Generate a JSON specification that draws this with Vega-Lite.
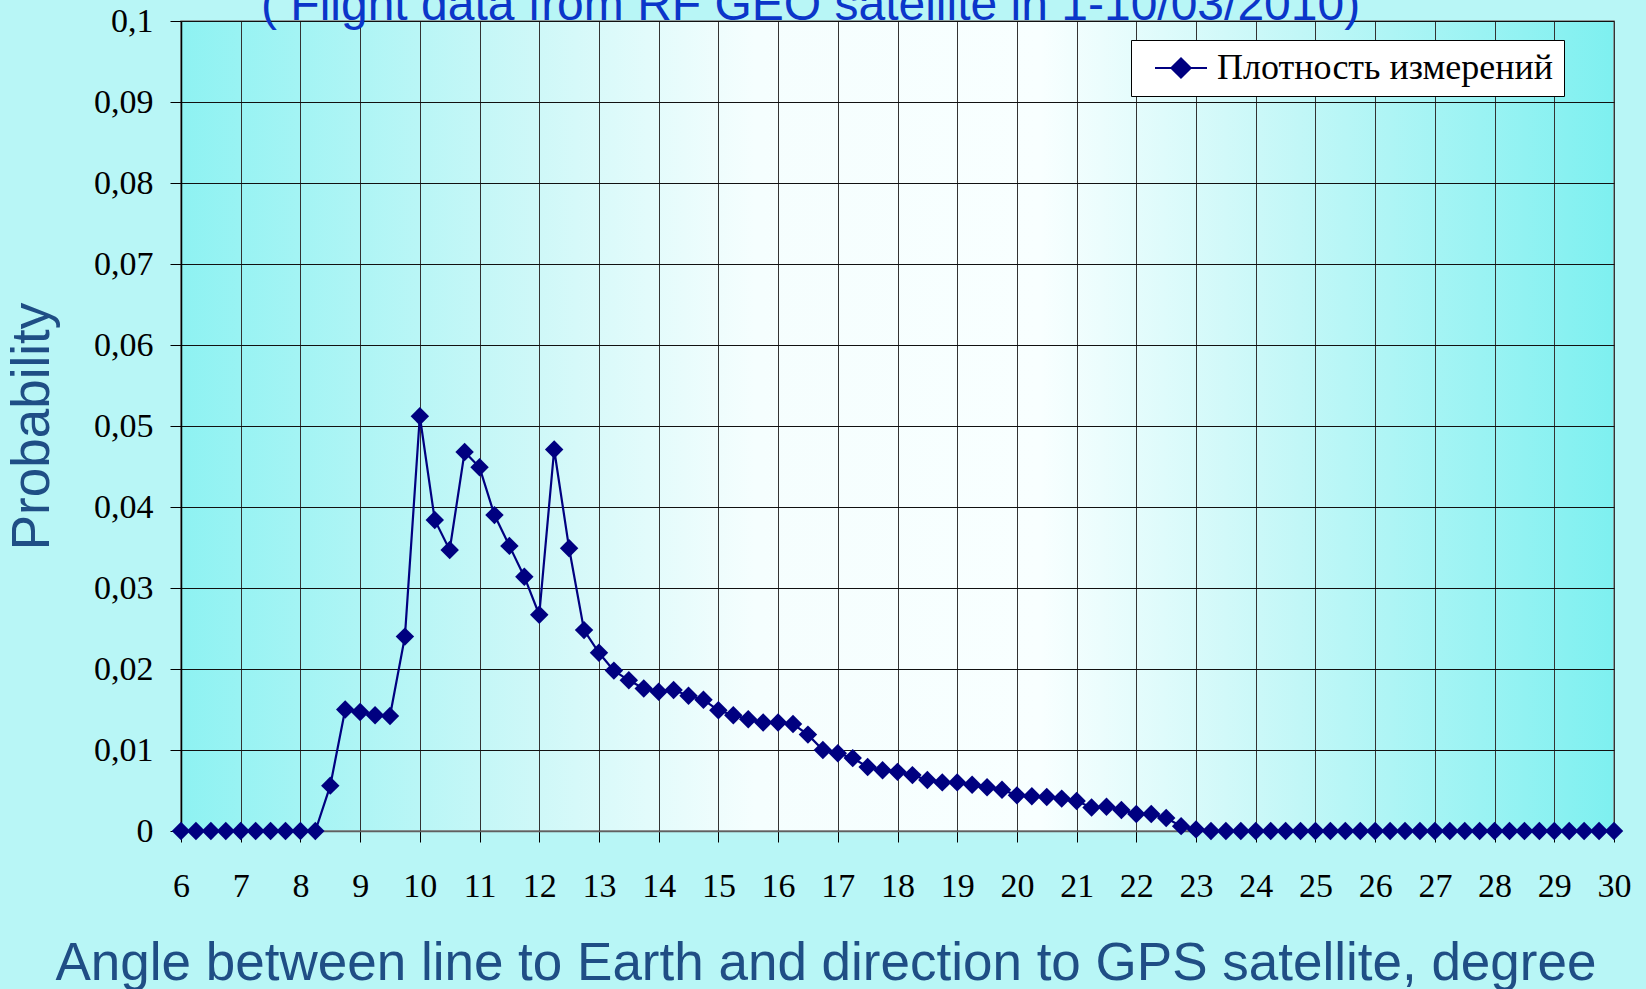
{
  "$schema": "https://vega.github.io/schema/vega-lite/v6.json",
  "autosize": "none",
  "width": 1433,
  "height": 810,
  "padding": {"left": 181, "top": 21, "right": 32, "bottom": 158},
  "background": "#b8f6f6",
  "title": {
    "text": "( Flight data from RF GEO satellite in 1-10/03/2010)",
    "font": "Liberation Sans",
    "fontSize": 48,
    "fontWeight": "normal",
    "color": "#0b36c9",
    "anchor": "start",
    "frame": "group",
    "dx": 80,
    "dy": 64,
    "baseline": "alphabetic",
    "offset": 0
  },
  "view": {
    "stroke": "#808080",
    "strokeWidth": 1.5,
    "fill": {
      "gradient": "linear",
      "x1": 0, "y1": 0, "x2": 1, "y2": 0,
      "stops": [
        {"offset": 0, "color": "#8ef2f2"},
        {"offset": 0.25, "color": "#cff8f8"},
        {"offset": 0.4, "color": "#f5fefe"},
        {"offset": 0.6, "color": "#f8ffff"},
        {"offset": 0.75, "color": "#cbf8f8"},
        {"offset": 1, "color": "#7ef0f0"}
      ]
    }
  },
  "data": {
    "values": [
      {"angle": 6.0, "p": 0}, {"angle": 6.25, "p": 0}, {"angle": 6.5, "p": 0}, {"angle": 6.75, "p": 0},
      {"angle": 7.0, "p": 0}, {"angle": 7.25, "p": 0}, {"angle": 7.5, "p": 0}, {"angle": 7.75, "p": 0},
      {"angle": 8.0, "p": 0}, {"angle": 8.25, "p": 0}, {"angle": 8.5, "p": 0.0056}, {"angle": 8.75, "p": 0.0150},
      {"angle": 9.0, "p": 0.0147}, {"angle": 9.25, "p": 0.0143}, {"angle": 9.5, "p": 0.0142}, {"angle": 9.75, "p": 0.0240},
      {"angle": 10.0, "p": 0.0512}, {"angle": 10.25, "p": 0.0384}, {"angle": 10.5, "p": 0.0347}, {"angle": 10.75, "p": 0.0468},
      {"angle": 11.0, "p": 0.0449}, {"angle": 11.25, "p": 0.0390}, {"angle": 11.5, "p": 0.0352}, {"angle": 11.75, "p": 0.0314},
      {"angle": 12.0, "p": 0.0267}, {"angle": 12.25, "p": 0.0471}, {"angle": 12.5, "p": 0.0349}, {"angle": 12.75, "p": 0.0248},
      {"angle": 13.0, "p": 0.0220}, {"angle": 13.25, "p": 0.0198}, {"angle": 13.5, "p": 0.0186}, {"angle": 13.75, "p": 0.0176},
      {"angle": 14.0, "p": 0.0172}, {"angle": 14.25, "p": 0.0174}, {"angle": 14.5, "p": 0.0167}, {"angle": 14.75, "p": 0.0162},
      {"angle": 15.0, "p": 0.0149}, {"angle": 15.25, "p": 0.0143}, {"angle": 15.5, "p": 0.0138}, {"angle": 15.75, "p": 0.0134},
      {"angle": 16.0, "p": 0.0134}, {"angle": 16.25, "p": 0.0132}, {"angle": 16.5, "p": 0.0119}, {"angle": 16.75, "p": 0.0100},
      {"angle": 17.0, "p": 0.0096}, {"angle": 17.25, "p": 0.0090}, {"angle": 17.5, "p": 0.0079}, {"angle": 17.75, "p": 0.0075},
      {"angle": 18.0, "p": 0.0073}, {"angle": 18.25, "p": 0.0069}, {"angle": 18.5, "p": 0.0063}, {"angle": 18.75, "p": 0.0060},
      {"angle": 19.0, "p": 0.0060}, {"angle": 19.25, "p": 0.0057}, {"angle": 19.5, "p": 0.0054}, {"angle": 19.75, "p": 0.0051},
      {"angle": 20.0, "p": 0.0044}, {"angle": 20.25, "p": 0.0043}, {"angle": 20.5, "p": 0.0042}, {"angle": 20.75, "p": 0.0040},
      {"angle": 21.0, "p": 0.0037}, {"angle": 21.25, "p": 0.0029}, {"angle": 21.5, "p": 0.0030}, {"angle": 21.75, "p": 0.0026},
      {"angle": 22.0, "p": 0.0021}, {"angle": 22.25, "p": 0.0021}, {"angle": 22.5, "p": 0.0016}, {"angle": 22.75, "p": 0.0006},
      {"angle": 23.0, "p": 0.0002}, {"angle": 23.25, "p": 0}, {"angle": 23.5, "p": 0}, {"angle": 23.75, "p": 0},
      {"angle": 24.0, "p": 0}, {"angle": 24.25, "p": 0}, {"angle": 24.5, "p": 0}, {"angle": 24.75, "p": 0},
      {"angle": 25.0, "p": 0}, {"angle": 25.25, "p": 0}, {"angle": 25.5, "p": 0}, {"angle": 25.75, "p": 0},
      {"angle": 26.0, "p": 0}, {"angle": 26.25, "p": 0}, {"angle": 26.5, "p": 0}, {"angle": 26.75, "p": 0},
      {"angle": 27.0, "p": 0}, {"angle": 27.25, "p": 0}, {"angle": 27.5, "p": 0}, {"angle": 27.75, "p": 0},
      {"angle": 28.0, "p": 0}, {"angle": 28.25, "p": 0}, {"angle": 28.5, "p": 0}, {"angle": 28.75, "p": 0},
      {"angle": 29.0, "p": 0}, {"angle": 29.25, "p": 0}, {"angle": 29.5, "p": 0}, {"angle": 29.75, "p": 0},
      {"angle": 30.0, "p": 0}
    ]
  },
  "mark": {
    "type": "line",
    "strokeWidth": 2.2,
    "clip": false,
    "point": {"shape": "diamond", "size": 340, "filled": true, "color": "#000080", "opacity": 1}
  },
  "encoding": {
    "x": {
      "field": "angle",
      "type": "quantitative",
      "scale": {"domain": [6, 30], "nice": false, "zero": false},
      "axis": {
        "title": "Angle between line to Earth and direction to GPS satellite, degree",
        "values": [6,7,8,9,10,11,12,13,14,15,16,17,18,19,20,21,22,23,24,25,26,27,28,29,30],
        "labelFont": "Liberation Serif",
        "labelFontSize": 34,
        "labelColor": "#000000",
        "labelPadding": 27,
        "labelFlush": false,
        "labelOverlap": false,
        "tickSize": 11,
        "tickColor": "#000000",
        "tickWidth": 1,
        "domainColor": "#606060",
        "domainWidth": 1.5,
        "grid": true,
        "gridColor": "#333333",
        "gridWidth": 1,
        "titleFont": "Liberation Sans",
        "titleFontSize": 53,
        "titleFontWeight": "normal",
        "titleColor": "#1f4e85",
        "titleAlign": "left",
        "titleX": -126,
        "titlePadding": 34
      }
    },
    "y": {
      "field": "p",
      "type": "quantitative",
      "scale": {"domain": [0, 0.1], "nice": false},
      "axis": {
        "title": "Probability",
        "values": [0, 0.01, 0.02, 0.03, 0.04, 0.05, 0.06, 0.07, 0.08, 0.09, 0.1],
        "labelExpr": "replace(format(datum.value, '~g'), '.', ',')",
        "labelFont": "Liberation Serif",
        "labelFontSize": 34,
        "labelColor": "#000000",
        "labelPadding": 17,
        "labelFlush": false,
        "labelOverlap": false,
        "tickSize": 11,
        "tickColor": "#000000",
        "tickWidth": 1,
        "domainColor": "#000000",
        "domainWidth": 1.5,
        "grid": true,
        "gridColor": "#111111",
        "gridWidth": 1.2,
        "titleFont": "Liberation Sans",
        "titleFontSize": 53,
        "titleFontWeight": "normal",
        "titleColor": "#1f4e85",
        "titlePadding": 34
      }
    },
    "color": {
      "datum": "Плотность измерений",
      "type": "nominal",
      "scale": {"range": ["#000080"]},
      "legend": {
        "title": null,
        "orient": "none",
        "legendX": 950,
        "legendY": 19,
        "fillColor": "#ffffff",
        "strokeColor": "#000000",
        "padding": 10,
        "cornerRadius": 0,
        "symbolType": "M-2.6,0H2.6M0,-0.95L0.95,0L0,0.95L-0.95,0Z",
        "symbolSize": 400,
        "symbolFillColor": "#000080",
        "symbolStrokeColor": "#000080",
        "symbolStrokeWidth": 2.2,
        "symbolOpacity": 1,
        "symbolOffset": 22,
        "labelOffset": 18,
        "labelFont": "Liberation Serif",
        "labelFontSize": 36,
        "labelColor": "#000000",
        "labelLimit": 600
      }
    }
  }
}
